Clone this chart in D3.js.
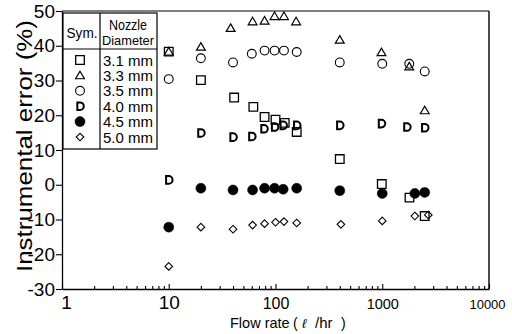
<!DOCTYPE html>
<html>
<head>
<meta charset="utf-8">
<script src="https://cdn.jsdelivr.net/npm/d3@7"></script>
<style>
  body { margin: 0; background: #fff; }
  text { font-family: 'Liberation Sans', Arial, sans-serif; fill: #000; }
</style>
</head>
<body>
<div id="chart"></div>
<script>
// nozzle data, flow rate (l/hr) and instrumental error (%)
const nozzles = ['3.1 mm', '3.3 mm', '3.5 mm', '4.0 mm', '4.5 mm', '5.0 mm'];

const flow31 = [10, 20, 41, 62, 79, 100, 122, 158, 400, 990, 1800, 2500];
const err31  = [38.3, 30.1, 25.1, 22.4, 19.5, 18.7, 17.8, 15.2, 7.4, 0.2, -3.7, -9.0];

const flow33 = [10, 20, 38, 61, 79, 98, 120, 156, 400, 983, 1790, 2500];
const err33  = [38.3, 39.7, 45.1, 47.0, 47.2, 48.5, 48.5, 47.0, 41.7, 38.1, 34.0, 21.4];

const flow35 = [10, 20, 40, 60, 79, 98, 120, 158, 400, 1000, 1790, 2500];
const err35  = [30.4, 36.4, 35.2, 37.7, 38.6, 38.6, 38.6, 38.2, 35.2, 34.8, 34.8, 32.6];

const flow40 = [10, 20, 40, 60, 78, 98, 118, 158, 400, 983, 1700, 2500];
const err40  = [1.4, 14.9, 13.7, 13.9, 16.1, 16.6, 17.1, 17.1, 17.1, 17.6, 16.6, 16.4];

const flow45 = [10, 20, 40, 61, 79, 98, 118, 158, 400, 1000, 2020, 2500];
const err45  = [-12.2, -1.0, -1.5, -1.5, -1.0, -1.0, -1.3, -1.0, -1.7, -2.5, -2.5, -2.2];

const flow50 = [10, 20, 40, 61, 79, 100, 120, 158, 410, 1000, 2020, 2700];
const err50  = [-23.5, -12.2, -12.8, -11.6, -11.2, -10.8, -10.6, -11.0, -11.4, -10.4, -9.0, -8.7];

const xMajor = [1, 10, 100, 1000, 10000];
const yTicks = [-30, -20, -10, 0, 10, 20, 30, 40, 50];

const width = 512, height = 334;
const plot = { left: 62, right: 489, top: 11, bottom: 289 };

const svg = d3.select('#chart')
  .append('svg')
  .attr('width', width)
  .attr('height', height);

svg.append('rect').attr('width', width).attr('height', height).attr('fill', '#fff');

const xScale = d3.scaleLog().domain([1, 10000]).range([plot.left, plot.right]);
const yScale = d3.scaleLinear().domain([-30, 50]).range([plot.bottom, plot.top]);

// marker shapes
const shapes = {
  square: { draw(c, s) { const h = s; c.rect(-h, -h, 2 * h, 2 * h); } },
  triangle: { draw(c, s) { c.moveTo(0, -s); c.lineTo(s * 1.05, s * 0.8); c.lineTo(-s * 1.05, s * 0.8); c.closePath(); } },
  circle: { draw(c, s) { c.moveTo(s, 0); c.arc(0, 0, s, 0, 2 * Math.PI); } },
  dee: { draw(c, s) { c.moveTo(-s * 0.7, -s); c.lineTo(0, -s); c.arc(0, 0, s, -Math.PI / 2, Math.PI / 2); c.lineTo(-s * 0.7, s); c.closePath(); } },
  diamond: { draw(c, s) { c.moveTo(0, -s); c.lineTo(s, 0); c.lineTo(0, s); c.lineTo(-s, 0); c.closePath(); } }
};

const series = [
  { x: flow31, y: err31, type: shapes.square, size: 4.3, fill: 'none', sw: 1.3 },
  { x: flow33, y: err33, type: shapes.triangle, size: 4.2, fill: 'none', sw: 1.2 },
  { x: flow35, y: err35, type: shapes.circle, size: 4.4, fill: 'none', sw: 1.1 },
  { x: flow40, y: err40, type: shapes.dee, size: 3.8, fill: 'none', sw: 2 },
  { x: flow45, y: err45, type: shapes.circle, size: 5, fill: '#000', sw: 0.5 },
  { x: flow50, y: err50, type: shapes.diamond, size: 3.8, fill: 'none', sw: 1.1 }
];

const symbolPath = s => d3.symbol().type(s.type).size(s.size)();

// frame
svg.append('line')
  .attr('x1', plot.left).attr('x2', plot.right)
  .attr('y1', plot.top).attr('y2', plot.top)
  .attr('stroke', '#000').attr('stroke-width', 1.2);
svg.append('line')
  .attr('x1', plot.right).attr('x2', plot.right)
  .attr('y1', plot.top).attr('y2', plot.bottom)
  .attr('stroke', '#000').attr('stroke-width', 1.4);

// x axis with log minor ticks
const xTickVals = [];
for (let dec = 1; dec < 10000; dec *= 10) {
  for (let m = 1; m < 10; m++) xTickVals.push(dec * m);
}
xTickVals.push(10000);

const xAxis = d3.axisBottom(xScale)
  .tickValues(xTickVals)
  .tickSizeInner(-5)
  .tickSizeOuter(0)
  .tickPadding(6)
  .tickFormat(d => xMajor.includes(d) ? String(d) : '');

// the pasted labels get narrower as they get longer
const xLabelSize = { '1': 19, '10': 19, '100': 16, '1000': 14.5, '10000': 13 };

const gx = svg.append('g')
  .attr('transform', `translate(0, ${plot.bottom})`)
  .call(xAxis);
gx.select('.domain').attr('stroke-width', 1.3);
gx.selectAll('.tick line')
  .attr('y2', d => xMajor.includes(d) ? -5 : -3)
  .attr('stroke-width', 1.1);
gx.selectAll('.tick text')
  .attr('font-size', d => xLabelSize[String(d)] || 19)
  .attr('y', 20)
  .attr('dy', 0)
  .attr('x', d => d === 1 ? 4 : (d === 10000 ? -2 : 0));

// y axis
const yAxis = d3.axisLeft(yScale)
  .tickValues(yTicks)
  .tickSizeInner(6)
  .tickSizeOuter(0)
  .tickPadding(1)
  .tickFormat(d => String(d));

const gy = svg.append('g')
  .attr('transform', `translate(${plot.left}, 0)`)
  .call(yAxis);
gy.select('.domain').attr('stroke-width', 1.3);
gy.selectAll('.tick line').attr('stroke-width', 1.1);
gy.selectAll('.tick text').attr('font-size', 19);

// axis titles
svg.append('text')
  .attr('transform', 'translate(32, 146) rotate(-90)')
  .attr('text-anchor', 'middle')
  .attr('font-size', 22)
  .attr('textLength', 252)
  .attr('lengthAdjust', 'spacingAndGlyphs')
  .text('Instrumental error (%)');

const xt = svg.append('g').attr('transform', 'translate(0, 328)');
xt.append('text').attr('x', 230).attr('font-size', 14.5).text('Flow rate');
xt.append('text').attr('x', 293).attr('font-size', 14).text('(');
xt.append('text').attr('x', 302).attr('font-size', 13).attr('font-style', 'italic')
  .attr('font-family', 'DejaVu Serif, serif').text('ℓ');
xt.append('text').attr('x', 315).attr('font-size', 15).text('/hr');
xt.append('text').attr('x', 341).attr('font-size', 14).text(')');

// data points
series.forEach(s => {
  svg.append('g')
    .selectAll('path')
    .data(s.x.map((x, i) => ({ x: x, y: s.y[i] })))
    .enter()
    .append('path')
    .attr('d', symbolPath(s))
    .attr('transform', d => `translate(${xScale(d.x)}, ${yScale(d.y)})`)
    .attr('fill', s.fill)
    .attr('stroke', '#000')
    .attr('stroke-width', s.sw);
});

// legend table
const lg = svg.append('g');
const box = { x0: 63, x1: 157, y0: 13, y1: 149, colX: 100, headY: 49 };
lg.append('rect')
  .attr('x', box.x0).attr('y', box.y0)
  .attr('width', box.x1 - box.x0).attr('height', box.y1 - box.y0)
  .attr('fill', '#fff').attr('stroke', '#000').attr('stroke-width', 1.2);
lg.append('line')
  .attr('x1', box.colX).attr('x2', box.colX).attr('y1', box.y0).attr('y2', box.y1)
  .attr('stroke', '#000').attr('stroke-width', 1.2);
lg.append('line')
  .attr('x1', box.x0).attr('x2', box.x1).attr('y1', box.headY).attr('y2', box.headY)
  .attr('stroke', '#000').attr('stroke-width', 1.2);

lg.append('text').attr('x', 82).attr('y', 38).attr('text-anchor', 'middle')
  .attr('font-size', 14).attr('textLength', 31).attr('lengthAdjust', 'spacingAndGlyphs').text('Sym.');
lg.append('text').attr('x', 128).attr('y', 30).attr('text-anchor', 'middle')
  .attr('font-size', 15).attr('textLength', 38).attr('lengthAdjust', 'spacingAndGlyphs').text('Nozzle');
lg.append('text').attr('x', 128).attr('y', 45).attr('text-anchor', 'middle')
  .attr('font-size', 13).attr('textLength', 52).attr('lengthAdjust', 'spacingAndGlyphs').text('Diameter');

const rowY = d3.scalePoint().domain(nozzles).range([60, 137]);

series.forEach((s, i) => {
  const yy = rowY(nozzles[i]);
  lg.append('path')
    .attr('d', symbolPath(s))
    .attr('transform', `translate(80, ${yy})`)
    .attr('fill', s.fill)
    .attr('stroke', '#000')
    .attr('stroke-width', s.sw);
  lg.append('text')
    .attr('x', 103)
    .attr('y', yy + 5.5)
    .attr('font-size', 15)
    .text(nozzles[i]);
});
</script>
</body>
</html>
